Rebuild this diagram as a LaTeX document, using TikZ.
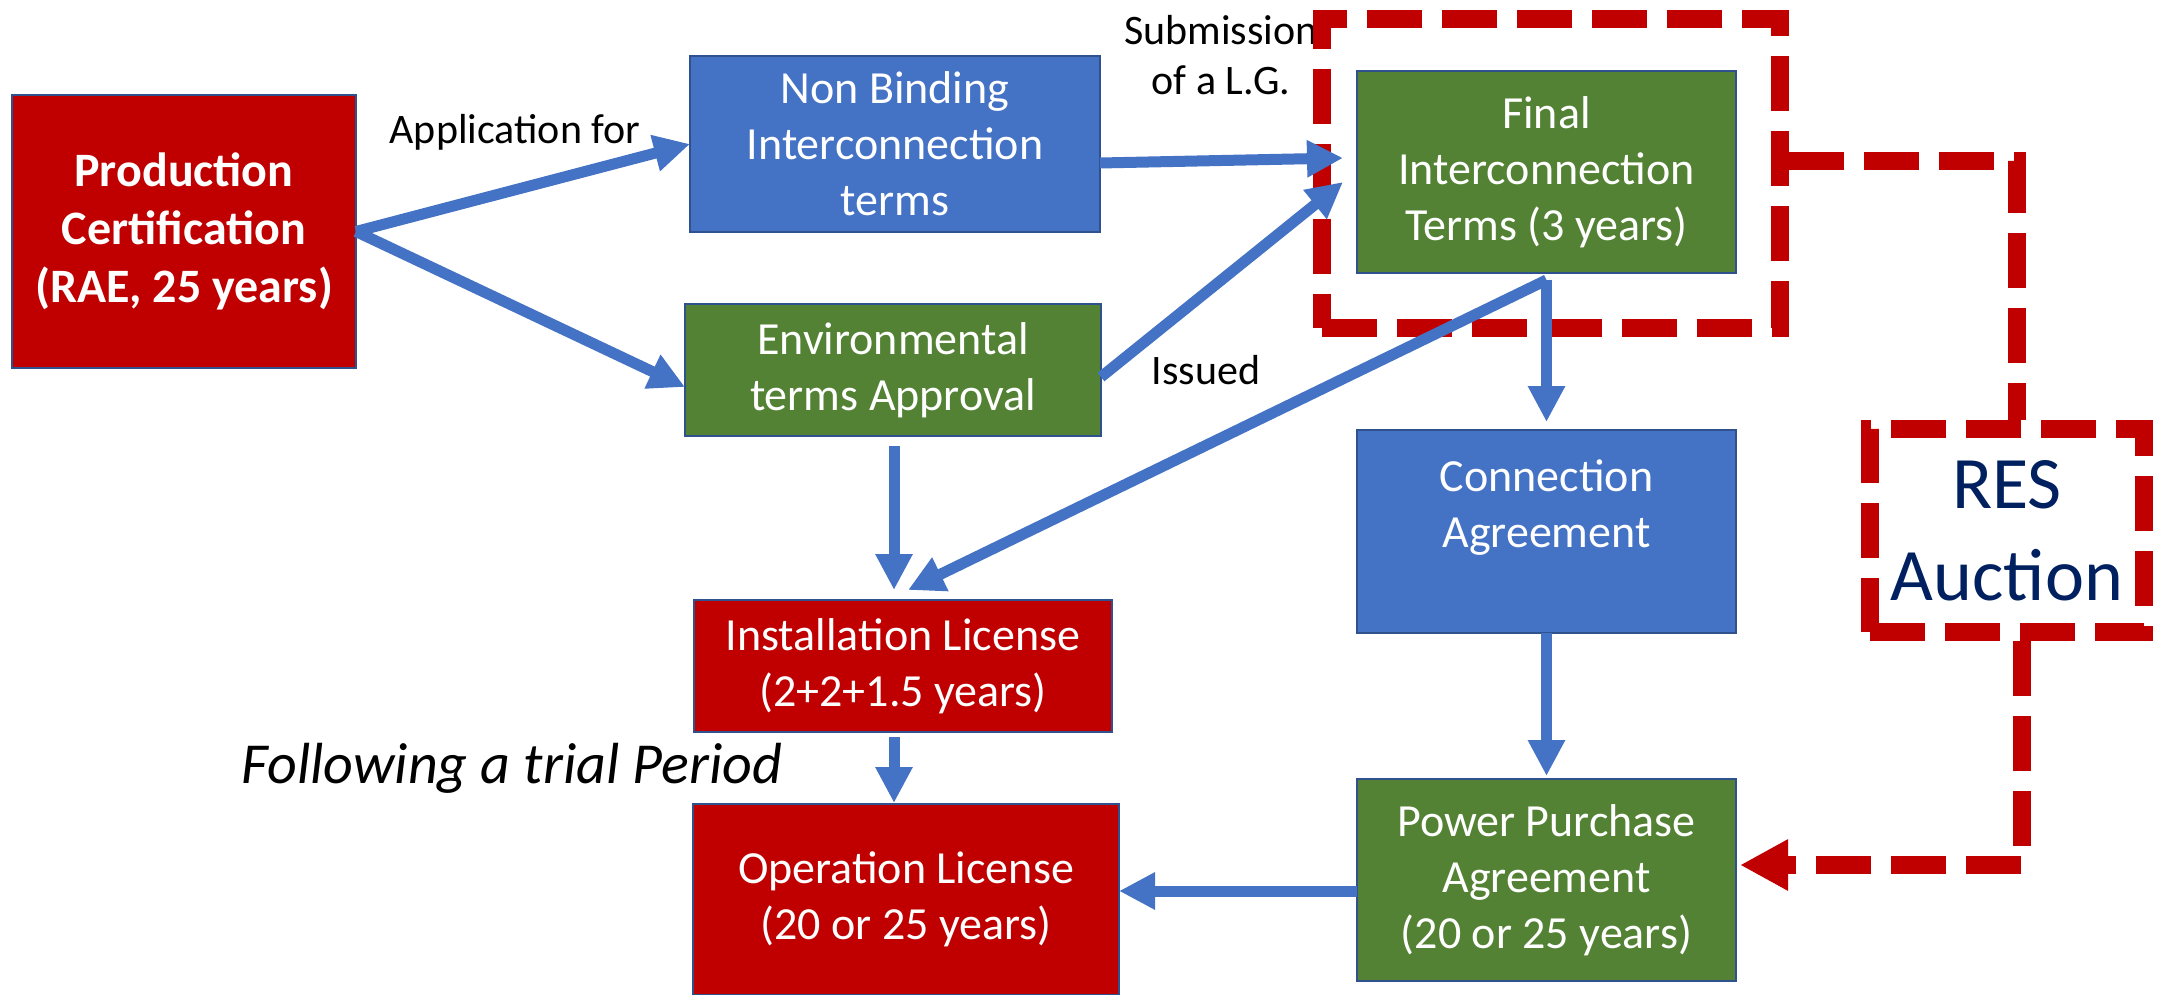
\documentclass[tikz,border=0pt]{standalone}
\usepackage{fontspec}
\setmainfont{Carlito}
\usetikzlibrary{arrows.meta,calc}
\definecolor{cred}{HTML}{C00000}
\definecolor{cblue}{HTML}{4472C4}
\definecolor{cgreen}{HTML}{548235}
\definecolor{cborder}{HTML}{2F528F}
\definecolor{cnavy}{HTML}{002060}
\begin{document}
\begin{tikzpicture}[x=1pt,y=-1pt,
  box/.style={draw=cborder, line width=2pt, text=white, align=center, inner sep=0pt, outer sep=0pt,
    font=\fontsize{46pt}{56pt}\selectfont},
  redbox/.style={box, fill=cred},
  bluebox/.style={box, fill=cblue},
  greenbox/.style={box, fill=cgreen},
  lbl/.style={text=black, align=center, inner sep=0pt, font=\fontsize{42pt}{50pt}\selectfont},
  arr/.style={draw=cblue, line width=11pt, -{Triangle[width=35pt,length=36pt]}},
  reddash/.style={draw=cred, line width=18pt, dash pattern=on 55pt off 20pt},
]
\useasboundingbox (0,0) rectangle (2164,995);

% boxes
\node[redbox, minimum width=344pt, minimum height=273pt, font=\bfseries\fontsize{48pt}{58pt}\selectfont]
  (prod) at (184,231.5) {Production\\Certification\\(RAE, 25 years)};
\node[bluebox, minimum width=410pt, minimum height=176pt] (nonb) at (895,144) {Non Binding\\Interconnection\\terms};
\node[greenbox, minimum width=416pt, minimum height=132pt] (env) at (893,370) {Environmental\\terms Approval};
\node[greenbox, minimum width=379pt, minimum height=202pt] (final) at (1546.5,172) {Final\\Interconnection\\Terms (3 years)};
\node[bluebox, minimum width=379pt, minimum height=203pt] (conn) at (1546.5,531.5) {Connection\\Agreement\\\mbox{}};
\node[greenbox, minimum width=379pt, minimum height=202pt] (ppa) at (1546.5,880) {Power Purchase\\Agreement\\(20 or 25 years)};
\node[redbox, minimum width=418pt, minimum height=132pt] (inst) at (903,666) {Installation License\\(2+2+1.5 years)};
\node[redbox, minimum width=426pt, minimum height=191pt] (oper) at (906,899.5) {Operation License\\(20 or 25 years)};

% labels
\node[lbl] (lapp) at (515,132) {Application for};
\node[lbl] (lsub) at (1221,55) {Submission\\of a L.G.};
\node[lbl] (liss) at (1206,370) {Issued};
\node[lbl, font=\itshape\fontsize{58pt}{68pt}\selectfont] (lfol) at (512,768) {Following a trial Period};

% red dashed groups
\node[reddash, minimum width=458pt, minimum height=309pt, inner sep=0pt] (finalgrp) at (1551,173.5) {};
\node[reddash, minimum width=274pt, minimum height=203pt, inner sep=0pt, text=cnavy, align=center,
  font=\fontsize{74pt}{92pt}\selectfont] (res) at (2007,530.5) {RES\\Auction};
\draw[reddash] ([yshift=12.5pt]finalgrp.east) -| ([xshift=10pt]res.north);
\draw[reddash, -{Triangle[width=48pt,length=48pt]}] ([xshift=15pt]res.south) |- ([xshift=4pt,yshift=15pt]ppa.east);

% blue arrows
\coordinate (fs) at ([yshift=-7pt]final.south);
\coordinate (ppaw) at ([yshift=-11pt]ppa.west);
\draw[arr] (prod.east) -- (nonb.west);
\draw[arr] (prod.east) -- ([yshift=-17pt]env.west);
\draw[arr] ([yshift=-19pt]nonb.east) -- ([xshift=-14pt,yshift=14pt]final.west);
\draw[arr] ([yshift=-7pt]env.east) -- ([xshift=-14pt,yshift=-10pt]final.west);
\draw[arr] (fs) -- ([yshift=8pt]conn.north);
\draw[arr] (fs) -- ([xshift=5pt,yshift=10pt]inst.north);
\draw[arr] ([xshift=1pt,yshift=-10pt]env.south) -- ([xshift=-9pt,yshift=10pt]inst.north);
\draw[arr] ([xshift=-9pt,yshift=-5pt]inst.south) -- ([xshift=-12pt,yshift=1pt]oper.north);
\draw[arr] (conn.south) -- ([yshift=3pt]ppa.north);
\draw[arr] (ppaw) -- (ppaw -| oper.east);
\end{tikzpicture}
\end{document}
